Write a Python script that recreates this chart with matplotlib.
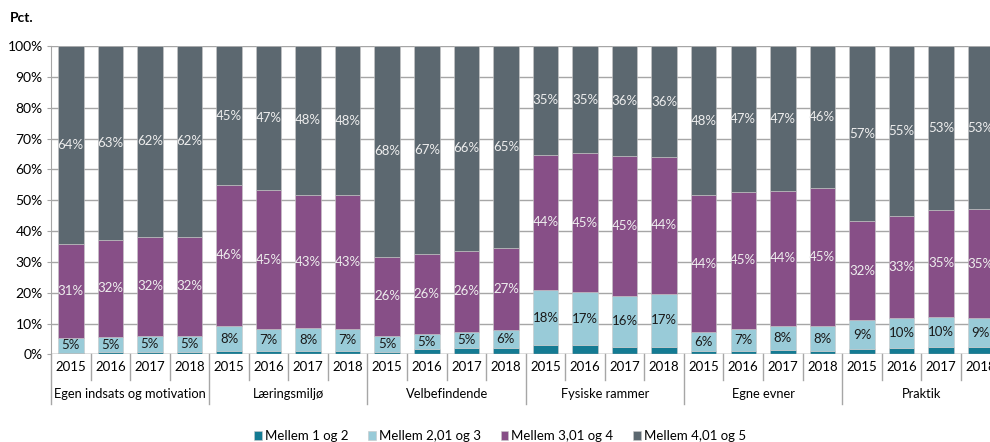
import matplotlib
matplotlib.use("Agg")
import matplotlib.pyplot as plt
import matplotlib.transforms as mtransforms
import numpy as np

plt.rcParams['font.family'] = ['Lato', 'DejaVu Sans']

groups = ['Egen indsats og motivation', 'Læringsmiljø', 'Velbefindende',
          'Fysiske rammer', 'Egne evner', 'Praktik']
years = ['2015', '2016', '2017', '2018']

series_names = ['Mellem 1 og 2', 'Mellem 2,01 og 3', 'Mellem 3,01 og 4', 'Mellem 4,01 og 5']
colors = ['#147b93', '#99cbd8', '#874f87', '#5c6870']
label_colors = [None, '#1a1a1a', '#eeeeee', '#eeeeee']

# values in pct, order: groups x years
mellem_1_2 = [0.6, 0.7, 0.9, 0.9,
              1.0, 1.0, 1.0, 1.0,
              0.9, 1.6, 2.0, 2.2,
              2.9, 2.9, 2.5, 2.5,
              1.0, 1.0, 1.3, 1.0,
              1.6, 2.0, 2.3, 2.3]
mellem_2_3 = [4.6, 4.9, 5.1, 5.1,
              8.3, 7.2, 7.5, 7.2,
              5.1, 5.0, 5.2, 5.6,
              18.1, 17.4, 16.4, 17.2,
              6.2, 7.2, 8.0, 8.3,
              9.4, 9.8, 9.9, 9.4]
mellem_3_4 = [30.7, 31.6, 32.2, 32.2,
              45.6, 45.1, 43.2, 43.4,
              25.6, 26.1, 26.4, 26.8,
              43.8, 44.9, 45.3, 44.2,
              44.4, 44.6, 43.6, 44.6,
              32.2, 33.0, 34.6, 35.3]
mellem_4_5 = [64.1, 62.8, 61.8, 61.8,
              45.1, 46.7, 48.3, 48.4,
              68.4, 67.3, 66.4, 65.4,
              35.2, 34.8, 35.8, 36.1,
              48.4, 47.2, 47.1, 46.1,
              56.8, 55.2, 53.2, 53.0]

data = [mellem_1_2, mellem_2_3, mellem_3_4, mellem_4_5]
n = len(groups) * len(years)
x = np.arange(n)

fig = plt.figure(figsize=(9.9, 4.42), dpi=100)
# plot area runs past the right edge, like the cropped original
ax = fig.add_axes([51 / 990, 87.6 / 442, 949.4 / 990, 308.4 / 442])

bottom = np.zeros(n)
for i, vals in enumerate(data):
    vals = np.array(vals)
    ax.bar(x, vals, width=0.645, bottom=bottom, color=colors[i],
           edgecolor='#c8c8c8', linewidth=0.4, label=series_names[i], zorder=3)
    if label_colors[i] is not None:
        for xi, b, v in zip(x, bottom, vals):
            ax.text(xi, b + v / 2, f"{v:.0f}%", ha='center', va='center',
                    fontsize=9.5, color=label_colors[i], zorder=4)
    bottom += vals

ax.set_xlim(-0.5, n - 0.5)
ax.set_ylim(0, 100)
ax.set_yticks(np.arange(0, 101, 10))
ax.set_yticklabels([f"{v}%" for v in range(0, 101, 10)], fontsize=10)
ax.yaxis.grid(True, color='#a6a6a6', linewidth=1, zorder=0)
ax.tick_params(axis='y', length=3, color='#a6a6a6', pad=3)
ax.set_xticks([])
for s in ['top', 'right', 'bottom']:
    ax.spines[s].set_visible(False)
ax.spines['left'].set_color('#a6a6a6')
ax.axhline(0, color='#a6a6a6', linewidth=1, zorder=5)

# category axis: years and groups
trans = mtransforms.blended_transform_factory(ax.transData, ax.transAxes)
for xi in x:
    ax.text(xi, -0.041, years[xi % 4], transform=trans, ha='center', va='center', fontsize=9.5)
for gi, g in enumerate(groups):
    ax.text(gi * 4 + 1.5, -0.128, g, transform=trans, ha='center', va='center', fontsize=9.3)
for k in range(n + 1):
    pos = k - 0.5
    low = -0.161 if k % 4 == 0 else -0.083
    ax.plot([pos, pos], [0, low], transform=trans, color='#a6a6a6',
            linewidth=1, clip_on=False)

fig.text(10 / 990, 1 - 18 / 442, 'Pct.', fontsize=10, fontweight='bold', va='center')

fig.legend(loc='center', bbox_to_anchor=(500 / 990, 1 - 436 / 442), ncol=4,
           frameon=False, fontsize=9.5, handlelength=0.6, handleheight=0.6,
           handletextpad=0.2, columnspacing=1.5)

fig.savefig('out.png', dpi=100)
